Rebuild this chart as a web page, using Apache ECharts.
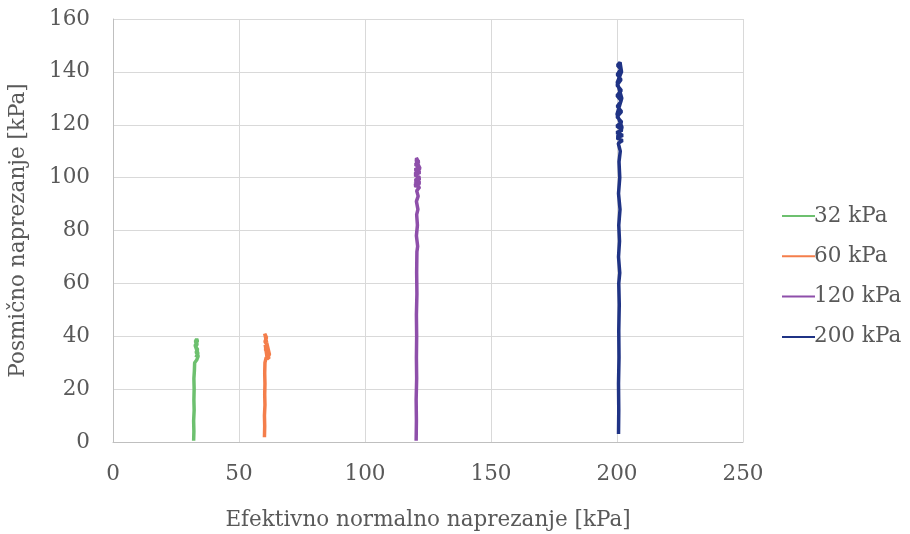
<!DOCTYPE html>
<html><head><meta charset="utf-8">
<script src="https://cdn.jsdelivr.net/npm/echarts@6/dist/echarts.min.js"></script>
<style>html,body{margin:0;padding:0;background:#fff}#c{width:910px;height:534px}</style>
</head><body><div id="c"></div>
<script>
var xTicks = [0, 50, 100, 150, 200, 250];
var yTicks = [0, 20, 40, 60, 80, 100, 120, 140, 160];
var seriesNames = ['32 kPa', '60 kPa', '120 kPa', '200 kPa'];
var s32 = [[32.0,0.5],[32.1,4],[32.0,8],[32.2,12],[32.1,16],[32.2,20],[32.1,24],[32.3,27],[32.4,30],[33.2,31],[33.8,32.5],[33.0,34],[33.6,35],[32.8,36],[33.4,37],[32.7,38],[33.2,39],[32.9,39.6],[33.5,38.2],[32.6,36.5],[33.7,33.5],[32.9,32]];
var s60 = [[60.1,1.8],[60.2,6],[60.1,10],[60.3,14],[60.2,18],[60.3,22],[60.2,26],[60.3,30],[60.8,32],[61.9,31.5],[61.3,33.5],[60.5,35],[61.2,36.5],[60.3,38],[60.9,39.5],[60.2,41],[60.6,41.6],[61.0,37.5],[62.1,33],[61.1,32.2],[60.4,36.8]];
var s120 = [[120.3,0.5],[120.4,8],[120.3,16],[120.5,24],[120.4,32],[120.5,40],[120.4,48],[120.6,56],[120.5,64],[120.6,72],[120.9,74],[120.4,78],[120.8,82],[120.5,86],[121.0,88],[120.4,91],[121.1,93],[120.5,95],[121.7,96.5],[119.6,97],[121.9,98],[119.8,99],[121.8,100],[119.7,101],[121.9,102],[119.8,103],[121.6,104],[119.9,105],[121.5,106],[120.0,106.8],[121.2,107.2],[120.3,106.5],[121.8,103.5],[119.9,101.5],[121.7,99.5],[119.8,97.5]];
var s200 = [[200.6,3],[200.7,12],[200.6,22],[200.8,32],[200.7,42],[200.9,52],[200.7,60],[201.1,64],[200.6,70],[201.0,76],[200.7,82],[201.2,88],[200.6,94],[201.1,100],[200.8,106],[201.3,110],[200.5,113],[202.2,114],[199.9,115],[202.3,116],[199.8,117],[202.1,118],[199.9,119.5],[201.9,121],[200.0,123],[201.8,125],[200.1,127],[201.7,129],[200.0,131],[201.7,133],[200.0,135],[201.6,137],[200.1,139],[201.5,141],[200.2,142.5],[201.2,143.6],[200.6,143],[201.8,140],[200.1,136],[201.9,130],[200.0,124],[202.0,119],[200.2,115.5]];
var colors = ['#6DC06F', '#F47E4B', '#8E4FAA', '#1F3385'];

var chart = echarts.init(document.getElementById('c'), null, {renderer: 'canvas'});
var font = '"DejaVu Serif", serif';
var fs = 21.5;
var allData = [s32, s60, s120, s200];
chart.setOption({
  animation: false,
  backgroundColor: '#fff',
  color: colors,
  grid: {left: 113, right: 167, top: 19, bottom: 92, containLabel: false, outerBoundsMode: 'none'},
  legend: {
    orient: 'vertical', left: 777, top: 200, itemGap: 18.3,
    itemWidth: 33, itemHeight: 21, icon: 'path://M0,9.5 L33,9.5 L33,11.5 L0,11.5 Z',
    textStyle: {fontFamily: font, fontSize: fs, color: '#595959', padding: [0,0,0,-6]},
    data: seriesNames
  },
  xAxis: {
    type: 'value', min: xTicks[0], max: xTicks[xTicks.length-1], interval: 50,
    name: 'Efektivno normalno naprezanje [kPa]', nameLocation: 'middle', nameGap: 67,
    nameTextStyle: {fontFamily: font, fontSize: fs, color: '#595959'},
    axisLine: {show: true, lineStyle: {color: '#BFBFBF', width: 1}},
    axisTick: {show: false},
    axisLabel: {fontFamily: font, fontSize: fs, color: '#595959', margin: 21},
    splitLine: {show: true, lineStyle: {color: '#D9D9D9', width: 1}}
  },
  yAxis: {
    type: 'value', min: yTicks[0], max: yTicks[yTicks.length-1], interval: 20,
    name: 'Posmično naprezanje [kPa]', nameLocation: 'middle', nameGap: 84, nameRotate: 90,
    nameTextStyle: {fontFamily: font, fontSize: fs, color: '#595959'},
    axisLine: {show: true, lineStyle: {color: '#BFBFBF', width: 1}},
    axisTick: {show: false},
    axisLabel: {fontFamily: font, fontSize: fs, color: '#595959', margin: 23},
    splitLine: {show: true, lineStyle: {color: '#D9D9D9', width: 1}}
  },
  series: seriesNames.map(function (n, i) {
    return {
      name: n, type: 'line', data: allData[i], showSymbol: false, symbol: 'none',
      lineStyle: {width: 3.5, color: colors[i]}, itemStyle: {color: colors[i]}
    };
  })
});
</script>
</body></html>
